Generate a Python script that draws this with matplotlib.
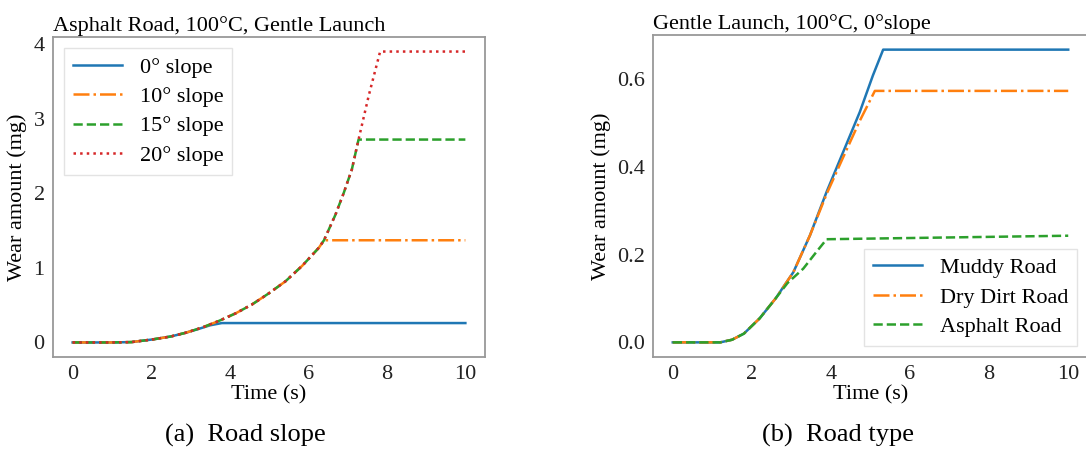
import matplotlib
matplotlib.use("Agg")
import matplotlib.pyplot as plt

plt.rcParams['font.family'] = ['Liberation Serif', 'DejaVu Serif']

# ---- Panel (a): road slope (Asphalt Road, 100°C, Gentle Launch) ----
slope_labels = ["0° slope", "10° slope", "15° slope", "20° slope"]
t_0 = [0, 1, 1.5, 2.03, 2.5, 2.88, 3.2, 3.5, 3.8, 10]
v_0 = [0, 0, 0.005, 0.04, 0.08, 0.13, 0.18, 0.23, 0.26, 0.26]
t_10 = [0, 1, 1.5, 2.03, 2.5, 2.88, 3.3, 3.73, 4.15, 4.57, 5.0, 5.42, 5.85, 6.27, 6.4, 10]
v_10 = [0, 0, 0.005, 0.04, 0.08, 0.13, 0.20, 0.29, 0.39, 0.51, 0.66, 0.82, 1.03, 1.27, 1.37, 1.37]
t_15 = [0, 1, 1.5, 2.03, 2.5, 2.88, 3.3, 3.73, 4.15, 4.57, 5.0, 5.42, 5.85, 6.27, 6.4,
        6.69, 6.9, 7.11, 7.28, 10]
v_15 = [0, 0, 0.005, 0.04, 0.08, 0.13, 0.20, 0.29, 0.39, 0.51, 0.66, 0.82, 1.03, 1.27, 1.37,
        1.71, 2.0, 2.32, 2.72, 2.72]
t_20 = [0, 1, 1.5, 2.03, 2.5, 2.88, 3.3, 3.73, 4.15, 4.57, 5.0, 5.42, 5.85, 6.27, 6.4,
        6.69, 6.9, 7.11, 7.28, 7.54, 7.83, 10]
v_20 = [0, 0, 0.005, 0.04, 0.08, 0.13, 0.20, 0.29, 0.39, 0.51, 0.66, 0.82, 1.03, 1.27, 1.37,
        1.71, 2.0, 2.32, 2.72, 3.31, 3.9, 3.9]

# ---- Panel (b): road type (Gentle Launch, 100°C, 0° slope) ----
road_labels = ["Muddy Road", "Dry Dirt Road", "Asphalt Road"]
t_mud = [0, 1.2, 1.5, 1.8, 2.2, 2.6, 3.05, 3.47, 3.89, 4.31, 4.73, 5.06, 5.32, 10]
v_mud = [0, 0, 0.006, 0.02, 0.055, 0.10, 0.16, 0.244, 0.343, 0.434, 0.525, 0.608, 0.667, 0.667]
t_dry = [0, 1.2, 1.5, 1.8, 2.2, 2.6, 3.05, 3.47, 3.89, 4.31, 4.73, 5.11, 10]
v_dry = [0, 0, 0.006, 0.02, 0.055, 0.10, 0.16, 0.244, 0.338, 0.422, 0.505, 0.573, 0.573]
t_asp = [0, 1.2, 1.5, 1.8, 2.2, 2.6, 2.9, 3.3, 3.64, 3.89, 10]
v_asp = [0, 0, 0.006, 0.02, 0.055, 0.10, 0.135, 0.168, 0.207, 0.235, 0.243]

W, H = 1086, 449
fig = plt.figure(figsize=(W / 100, H / 100), dpi=100)

def px_axes(x0, y0, x1, y1):
    return fig.add_axes([x0 / W, (H - y1) / H, (x1 - x0) / W, (y1 - y0) / H])

ax1 = px_axes(53, 37, 485, 357)
ax2 = px_axes(653, 35, 1088, 357)

colors = ['#1f77b4', '#ff7f0e', '#2ca02c', '#d62728']
styles = ['-', '-.', '--', ':']
lw = 1.8

for (t, v), lab, c, s in zip([(t_0, v_0), (t_10, v_10), (t_15, v_15), (t_20, v_20)],
                             slope_labels, colors, styles):
    ax1.plot(t, v, color=c, linestyle=s, linewidth=lw, label=lab)

for (t, v), lab, c, s in zip([(t_mud, v_mud), (t_dry, v_dry), (t_asp, v_asp)],
                             road_labels, colors[:3], styles[:3]):
    ax2.plot(t, v, color=c, linestyle=s, linewidth=lw, label=lab)

fs = 16
for ax in (ax1, ax2):
    for sp in ax.spines.values():
        sp.set_color('#999999')
        sp.set_linewidth(1.3)
    ax.tick_params(length=0, labelsize=fs, pad=6, colors='#222222')
    ax.set_xlabel("Time (s)", fontsize=fs, labelpad=1)
    ax.set_xticks([0, 2, 4, 6, 8, 10])

ax1.set_ylabel("Wear amount (mg)", fontsize=fs, labelpad=5)
ax2.set_ylabel("Wear amount (mg)", fontsize=fs, labelpad=4)

ax1.set_yticks([0, 1, 2, 3, 4])
ax2.set_yticks([0.0, 0.2, 0.4, 0.6])
ax2.set_yticklabels(["0.0", "0.2", "0.4", "0.6"])

ax1.set_title("Asphalt Road, 100°C, Gentle Launch", loc='left', fontsize=fs, pad=4)
ax2.set_title("Gentle Launch, 100°C, 0°slope", loc='left', fontsize=fs, pad=4)

ax1.legend(loc='upper left', fontsize=fs, frameon=True, fancybox=False,
           edgecolor='#dddddd', handlelength=2.2, borderpad=0.4, labelspacing=0.4)
ax2.legend(loc='lower right', fontsize=fs, frameon=True, fancybox=False,
           edgecolor='#dddddd', handlelength=2.2, borderpad=0.4, labelspacing=0.4)

fig.text(245 / W, 1 - 435 / H, "(a)  Road slope", ha='center', va='center', fontsize=19)
fig.text(838 / W, 1 - 435 / H, "(b)  Road type", ha='center', va='center', fontsize=19)

fig.savefig("out.png", dpi=100)
